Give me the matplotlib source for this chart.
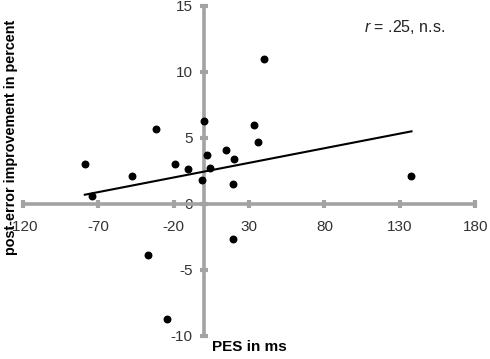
"""Scatter of post-error improvement against post-error slowing (PES)."""

import numpy as np
import matplotlib
matplotlib.use("Agg")
import matplotlib.pyplot as plt


PES_MS = [-79.0, -74.1, -47.4, -31.7, -37.0, -24.8, -19.3, -10.6, -1.1, 0.4,
          2.2, 3.8, 14.8, 20.1, 19.0, 19.3, 33.2, 36.1, 39.6, 137.7]
IMPROVEMENT = [2.99, 0.56, 2.10, 5.67, -3.85, -8.73, 3.04, 2.66, 1.77, 6.30,
               3.67, 2.73, 4.05, 3.37, 1.49, -2.68, 5.97, 4.66, 10.99, 2.10]
X_TICKS = [-120, -70, -20, 30, 80, 130, 180]
Y_TICKS = [-10, -5, 0, 5, 10, 15]


def main():
    plt.rcParams["font.family"] = ["Liberation Sans", "DejaVu Sans"]
    plt.rcParams["mathtext.fontset"] = "custom"
    plt.rcParams["mathtext.it"] = "Liberation Sans:italic"
    plt.rcParams["mathtext.rm"] = "Liberation Sans"
    plt.rcParams["axes.unicode_minus"] = False

    x = np.array(PES_MS)
    y = np.array(IMPROVEMENT)

    fig = plt.figure(figsize=(4.9, 3.59), dpi=100)
    ax = fig.add_axes([0.0469, 0.0649, 0.923, 0.9184])
    gray = "#a3a3a3"

    ax.scatter(x, y, s=22, color="black", zorder=4)

    # least-squares trend line over the data range
    slope, intercept = np.polyfit(x, y, 1)
    xs = np.array([x.min(), x.max()])
    ax.plot(xs, slope * xs + intercept, color="black", lw=1.5, zorder=3)

    ax.set_xlim(-120, 180)
    ax.set_ylim(-10, 15)
    ax.set_xticks(X_TICKS)
    ax.set_yticks(Y_TICKS)

    for side in ("top", "right"):
        ax.spines[side].set_visible(False)
    ax.spines["left"].set_position(("data", 0))
    ax.spines["bottom"].set_position(("data", 0))
    for side in ("left", "bottom"):
        ax.spines[side].set_color(gray)
        ax.spines[side].set_linewidth(2.6)

    ax.tick_params(direction="inout", length=6, width=3, color=gray,
                   labelsize=11, labelcolor="#333333")
    ax.tick_params(axis="x", pad=9)
    ax.tick_params(axis="y", pad=5)

    ax.text(106, 13.4, "$r$ = .25, n.s.", fontsize=11.5, va="center",
            ha="left", color="#222222")

    fig.text(0.4327, 0.0334, "PES in ms", fontsize=11, fontweight="bold",
             ha="left", va="center")
    fig.text(0.023, 0.618, "post-error improvement in percent", fontsize=10.4,
             fontweight="bold", rotation=90, ha="center", va="center",
             zorder=5)

    fig.savefig("out.png", dpi=100)


if __name__ == "__main__":
    main()
